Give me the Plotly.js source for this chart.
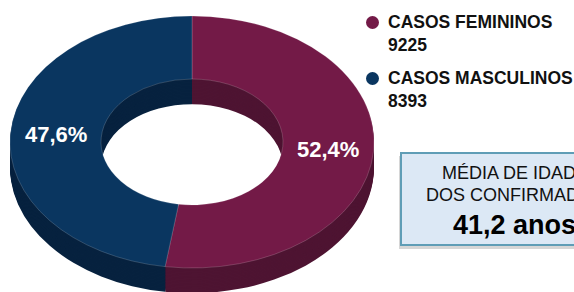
<!DOCTYPE html>
<html><head><meta charset="utf-8">
<script src="https://cdn.plot.ly/plotly-3.0.1.min.js"></script>
<style>html,body{margin:0;padding:0;background:#fff;overflow:hidden}#chart{width:574px;height:292px}</style>
</head><body><div id="chart"></div>
<script>
// ---- data ----
const labels = ['CASOS FEMININOS', 'CASOS MASCULINOS'];
const values = [9225, 8393];
const boxLines = ['MÉDIA DE IDADE', 'DOS CONFIRMADOS'];
const meanAge = 41.2;
const ageUnit = 'anos';

// ---- style ----
const topColors = ['#731a47', '#0a3660'];
const sideColors = ['#4e1432', '#07223f'];
const W = 574, H = 292;
const R = 120;          // pie radius before the perspective squash
const HOLE = 0.5;
const depth = 24;       // extrusion depth (pre-squash px)
const nLayers = 18;
const sx = 182 / R, sy = 126 / R;
const tx = 192 - sx * R, ty = 142 - sy * R;
const FONT = 'Liberation Sans, Arial, sans-serif';

function pieTrace(offset, colors, line) {
  return {
    type: 'pie', values: values, labels: labels, sort: false,
    direction: 'clockwise', rotation: 0, hole: HOLE,
    textinfo: 'none', hoverinfo: 'none', showlegend: false,
    marker: {colors: colors, line: line || {width: 0}},
    domain: {x: [0, 2 * R / W], y: [1 - (offset + 2 * R) / H, 1 - offset / H]}
  };
}
const traces = [];
for (let i = 0; i < nLayers; i++) {
  const off = depth * (1 - i / nLayers);
  traces.push(pieTrace(off, sideColors));
}
traces.push(pieTrace(0, topColors, {color: 'rgba(255,255,255,0.22)', width: 0.6}));

const total = values.reduce((a, b) => a + b, 0);
const fmt = (v, d) => v.toFixed(d).replace('.', ',');
const px = x => x / W, py = y => 1 - y / H;

const annotations = [];
let cum = 0;
values.forEach((v, i) => {
  const m = (cum + v / 2) / total; cum += v;
  const th = 2 * Math.PI * m;
  const rm = R * (1 + HOLE) / 2;
  const preX = R + rm * Math.sin(th), preY = R - rm * Math.cos(th);
  annotations.push({
    xref: 'paper', yref: 'paper', x: px(tx + sx * preX), y: py(ty + sy * preY),
    xanchor: 'center', yanchor: 'middle', showarrow: false,
    text: '<b>' + fmt(v / total * 100, 1) + '%</b>',
    font: {family: FONT, size: 22, color: '#ffffff'}
  });
});

// legend
const shapes = [];
const legY = [33, 89];
labels.forEach((lab, i) => {
  shapes.push({type: 'circle', xref: 'paper', yref: 'paper',
    x0: px(366), x1: px(379), y0: py(legY[i] - 10.5 + 6.5), y1: py(legY[i] - 10.5 - 6.5),
    fillcolor: topColors[i], line: {width: 0}});
  annotations.push({
    xref: 'paper', yref: 'paper', x: px(386), y: py(legY[i]),
    xanchor: 'left', yanchor: 'middle', align: 'left', showarrow: false,
    text: '<b>' + lab + '<br>' + values[i] + '</b>',
    font: {family: FONT, size: 17.5, color: '#111111'}
  });
});

// text box
shapes.push({type: 'rect', xref: 'paper', yref: 'paper',
  x0: px(399), x1: px(624), y0: py(249), y1: py(156),
  fillcolor: 'rgba(0,0,0,0.16)', line: {width: 0}});
shapes.push({type: 'rect', xref: 'paper', yref: 'paper',
  x0: px(401), x1: px(630), y0: py(245), y1: py(153),
  fillcolor: '#dce8f5', line: {color: '#5f9db6', width: 2}});
annotations.push({xref: 'paper', yref: 'paper', x: px(515), y: py(173),
  xanchor: 'center', yanchor: 'middle', showarrow: false, text: boxLines[0],
  font: {family: FONT, size: 18, color: '#111111'}});
annotations.push({xref: 'paper', yref: 'paper', x: px(515), y: py(195),
  xanchor: 'center', yanchor: 'middle', showarrow: false, text: boxLines[1],
  font: {family: FONT, size: 18, color: '#111111'}});
annotations.push({xref: 'paper', yref: 'paper', x: px(514), y: py(225),
  xanchor: 'center', yanchor: 'middle', showarrow: false,
  text: '<b>' + fmt(meanAge, 1) + ' ' + ageUnit + '</b>',
  font: {family: FONT, size: 27, color: '#000000'}});

const layout = {
  width: W, height: H, margin: {l: 0, r: 0, t: 0, b: 0},
  paper_bgcolor: '#ffffff', plot_bgcolor: '#ffffff', showlegend: false,
  font: {family: FONT}, shapes: shapes, annotations: annotations
};

Plotly.newPlot('chart', traces, layout, {staticPlot: true, displayModeBar: false}).then(gd => {
  const pl = gd.querySelector('.pielayer');
  if (pl) pl.setAttribute('transform', 'translate(' + tx + ',' + ty + ') scale(' + sx + ',' + sy + ')');
});
</script>
</body></html>
